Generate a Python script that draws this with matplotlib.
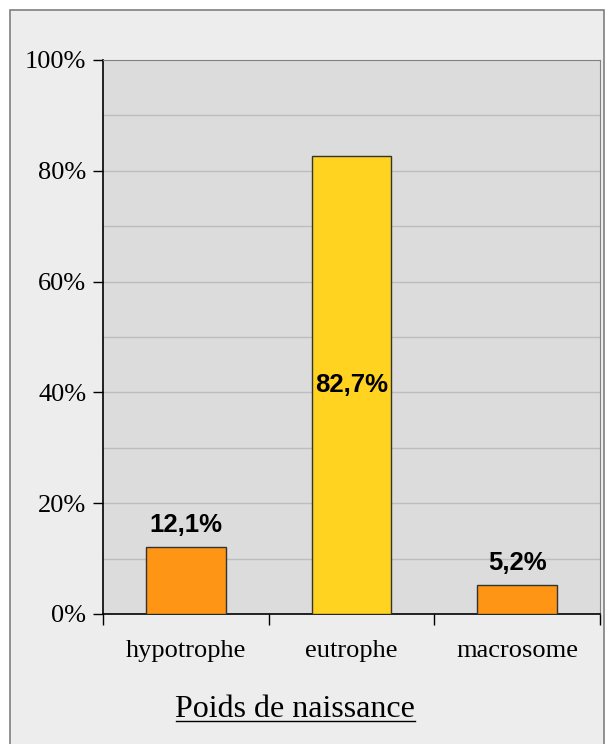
import matplotlib.pyplot as plt
from matplotlib.patches import Rectangle

categories = ['hypotrophe', 'eutrophe', 'macrosome']
values = [12.1, 82.7, 5.2]
labels = ['12,1%', '82,7%', '5,2%']
colors = ['#FF9515', '#FFD320', '#FF9515']
yticks = [0, 20, 40, 60, 80, 100]

W, H = 606, 744
fig = plt.figure(figsize=(W / 100, H / 100), dpi=100)
fig.patch.set_facecolor('white')

# outer panel, kept behind the axes
fig.patches.append(Rectangle((10 / W, -0.01), 594 / W, (H - 10) / H + 0.01,
                             transform=fig.transFigure, facecolor='#EDEDED',
                             edgecolor='#7F7F7F', linewidth=1.2, zorder=-10))

ax = fig.add_axes([103 / W, (H - 614) / H, 497 / W, 554 / H])
ax.set_facecolor('#DCDCDC')

x = range(len(categories))
ax.bar(x, values, width=0.48, color=colors, edgecolor='#333333', linewidth=1, zorder=3)

ax.set_xlim(-0.5, 2.5)
ax.set_ylim(0, 100)
ax.set_yticks(yticks)
ax.set_yticklabels([f'{v}%' for v in yticks], fontfamily='Liberation Serif', fontsize=19)
for v in range(10, 100, 10):
    ax.axhline(v, color='#BDBDBD', linewidth=1, zorder=1)

ax.set_xticks(list(x))
ax.set_xticklabels(categories, fontfamily='Liberation Serif', fontsize=19)
ax.set_xticks([-0.5, 0.5, 1.5, 2.5], minor=True)
ax.tick_params(axis='x', which='major', length=0, pad=19)
ax.tick_params(axis='x', which='minor', length=8, width=1, direction='out', color='black')
ax.tick_params(axis='y', length=7, width=1, pad=5, color='black')

for side in ['top', 'right']:
    ax.spines[side].set_color('#808080')
for side in ['left', 'bottom']:
    ax.spines[side].set_color('black')
    ax.spines[side].set_linewidth(1.2)

for i, (v, lab) in enumerate(zip(values, labels)):
    y = v / 2 if v > 50 else v + 4
    ax.text(i, y, lab, ha='center', va='center', fontfamily='Liberation Sans',
            fontweight='bold', fontsize=18.5, zorder=4)

fig.text(295 / W, (H - 717) / H, 'Poids de naissance', ha='center', va='baseline',
         fontfamily='Liberation Serif', fontsize=23)
fig.add_artist(plt.Line2D([176 / W, 415 / W], [(H - 720.5) / H] * 2,
                          transform=fig.transFigure, color='black', linewidth=1))

fig.savefig('out.png', dpi=100)
